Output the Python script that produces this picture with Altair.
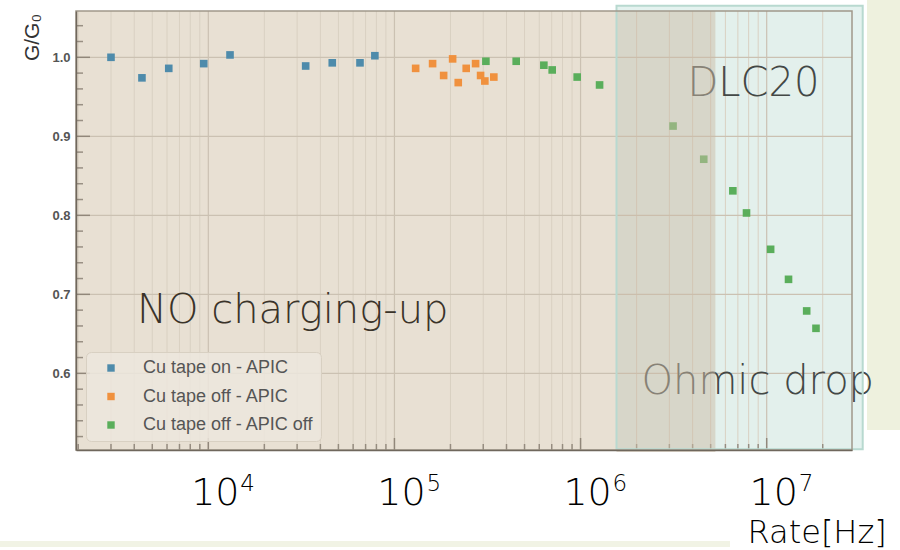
import altair as alt
import pandas as pd

# ---- measured gain ratio G/G0 versus rate ----
series_names = ["Cu tape on - APIC", "Cu tape off - APIC", "Cu tape off - APIC off"]
series_colors = ["#4E8BAB", "#F0913E", "#5AAE5B"]

on_apic_rate = [3000, 4400, 6130, 9450, 13080, 33350, 46340, 65300, 78500]
on_apic_gain = [1.000, 0.974, 0.986, 0.992, 1.003, 0.989, 0.993, 0.993, 1.002]

off_apic_rate = [130000, 160300, 183800, 205400, 220200, 243000, 272900, 290300, 306000, 342000]
off_apic_gain = [0.986, 0.992, 0.977, 0.998, 0.968, 0.986, 0.992, 0.977, 0.970, 0.975]

off_off_rate = [310000, 451000, 635000, 704000, 959000, 1265000, 3140000, 4590000,
                6580000, 7790000, 10500000, 13100000, 16400000, 18400000]
off_off_gain = [0.995, 0.995, 0.990, 0.984, 0.975, 0.965, 0.913, 0.871,
                0.831, 0.803, 0.757, 0.719, 0.679, 0.657]

# axis ranges and tick positions
x_domain = [1946, 2.873e7]
y_domain = [0.503, 1.0586]
x_major = [1e4, 1e5, 1e6, 1e7]
x_exponents = ["4", "5", "6", "7"]
x_minor = [m * 10 ** e for e in range(3, 8) for m in range(2, 10)
           if x_domain[0] < m * 10 ** e < x_domain[1]]
y_major = [0.6, 0.7, 0.8, 0.9, 1.0]
y_minor = [round(0.52 + 0.02 * i, 2) for i in range(27)]
y_minor = [v for v in y_minor if v not in y_major]

# shaded regimes
box_x = [1.56e6, 3.28e7]
box_y = [0.5038, 1.0653]
drop_x = [1.56e6, 5.3e6]
drop_y = [0.5004, 1.0586]

# annotations
note_text = ["NO charging-up", "DLC20", "Ohmic drop"]
note_x = [4140, 3.755e6, 2.127e6]
note_y = [0.6633, 0.951, 0.5738]
note_color = ["#3A3329", "#434846", "#434846"]

W, H = 776, 439
BIG_FONT = "DejaVu Sans"
BIG_WEIGHT = 200

rows = []
for name, rates, gains in [(series_names[0], on_apic_rate, on_apic_gain),
                           (series_names[1], off_apic_rate, off_apic_gain),
                           (series_names[2], off_off_rate, off_off_gain)]:
    for r, g in zip(rates, gains):
        rows.append({"series": name, "rate": r, "gain": g})
points_df = pd.DataFrame(rows)

xs = alt.Scale(type="log", domain=x_domain, nice=False)
ys = alt.Scale(domain=y_domain, nice=False, zero=False)

one = pd.DataFrame({"k": [0]})

# slide decoration to the right of the plot and strip along the bottom
side_panel = alt.Chart(one).mark_rect(color="#EEF1DE").encode(
    x=alt.value(791), x2=alt.value(824), y=alt.value(-11), y2=alt.value(419))
bottom_strip = alt.Chart(one).mark_rect(color="#F1F3E5").encode(
    x=alt.value(-76), x2=alt.value(654), y=alt.value(530), y2=alt.value(536))

box_df = pd.DataFrame({"x0": [box_x[0]], "x1": [box_x[1]], "y0": [box_y[0]], "y1": [box_y[1]]})
teal_fill = alt.Chart(box_df).mark_rect(color="#E2F1EE", opacity=0.92).encode(
    x=alt.X("x0:Q", scale=xs), x2="x1:Q",
    y=alt.Y("y0:Q", scale=ys), y2="y1:Q")
teal_edge = alt.Chart(box_df).mark_rect(fill=None, stroke="#B8D9D0", strokeWidth=2).encode(
    x=alt.X("x0:Q", scale=xs), x2="x1:Q",
    y=alt.Y("y0:Q", scale=ys), y2="y1:Q")

drop_df = pd.DataFrame({"x0": [drop_x[0]], "x1": [drop_x[1]], "y0": [drop_y[0]], "y1": [drop_y[1]]})
drop_shade = alt.Chart(drop_df).mark_rect(color="#CCBCA6", opacity=0.5).encode(
    x=alt.X("x0:Q", scale=xs), x2="x1:Q",
    y=alt.Y("y0:Q", scale=ys), y2="y1:Q")

# grid
vminor = alt.Chart(pd.DataFrame({"v": x_minor})).mark_rule(color="#D9D0C2", strokeWidth=1).encode(
    x=alt.X("v:Q", scale=xs))
vmajor = alt.Chart(pd.DataFrame({"v": x_major})).mark_rule(color="#CBC1B2", strokeWidth=1.2).encode(
    x=alt.X("v:Q", scale=xs))
hmajor = alt.Chart(pd.DataFrame({"v": y_major})).mark_rule(color="#CBC1B2", strokeWidth=1.2).encode(
    y=alt.Y("v:Q", scale=ys))

# inward ticks
tick_color = "#776E62"
ytick_major = alt.Chart(pd.DataFrame({"v": y_major})).mark_tick(
    orient="horizontal", color=tick_color, thickness=1.5, size=14).encode(
    y=alt.Y("v:Q", scale=ys), x=alt.value(7))
ytick_minor = alt.Chart(pd.DataFrame({"v": y_minor})).mark_tick(
    orient="horizontal", color=tick_color, thickness=1.5, size=7).encode(
    y=alt.Y("v:Q", scale=ys), x=alt.value(3.5))
xtick_major = alt.Chart(pd.DataFrame({"v": x_major})).mark_tick(
    orient="vertical", color=tick_color, thickness=1.5, size=12).encode(
    x=alt.X("v:Q", scale=xs), y=alt.value(H - 6))
xtick_minor = alt.Chart(pd.DataFrame({"v": x_minor})).mark_tick(
    orient="vertical", color=tick_color, thickness=1.5, size=6).encode(
    x=alt.X("v:Q", scale=xs), y=alt.value(H - 3))

frame = alt.Chart(one).mark_rect(fill=None, stroke="#A0988A", strokeWidth=1.5).encode(
    x=alt.value(0), x2=alt.value(W), y=alt.value(0), y2=alt.value(H))

points = alt.Chart(points_df).mark_point(shape="square", filled=True, size=58, opacity=1).encode(
    x=alt.X("rate:Q", scale=xs,
            axis=alt.Axis(title="Rate[Hz]", labels=False, ticks=False, grid=False,
                          domainColor="#6F675C", domainWidth=1.5, zindex=1,
                          titleFont=BIG_FONT, titleFontSize=32, titleFontWeight=BIG_WEIGHT,
                          titleColor="#000000", titleAlign="left", titleBaseline="alphabetic",
                          titleX=671, titleY=92)),
    y=alt.Y("gain:Q", scale=ys,
            axis=alt.Axis(title="G/G₀", values=y_major, format=".1f", ticks=False, grid=False,
                          domainColor="#6F675C", domainWidth=1.5, zindex=1,
                          labelFont="Liberation Sans", labelFontSize=13, labelFontWeight="bold",
                          labelColor="#555555", labelPadding=6,
                          titleFont="Liberation Sans", titleFontSize=21, titleFontWeight="normal",
                          titleColor="#333333", titleAngle=-90, titleAlign="center",
                          titleBaseline="middle", titleX=-44, titleY=26)),
    color=alt.Color("series:N", scale=alt.Scale(domain=series_names, range=series_colors),
                    legend=alt.Legend(orient="none", legendX=10, legendY=341, title=None,
                                      symbolType="square", symbolSize=55, symbolStrokeWidth=0,
                                      labelFont="Liberation Sans", labelFontSize=18,
                                      labelColor="#555555", labelLimit=400,
                                      padding=7, symbolOffset=9,
                                      labelOffset=23, rowPadding=10.5,
                                      fillColor="rgba(236,230,221,0.85)", strokeColor="#D8D0C2",
                                      cornerRadius=5)),
)

notes_df = pd.DataFrame({"t": note_text, "x": note_x, "y": note_y, "c": note_color})
notes = alt.Chart(notes_df).mark_text(
    align="left", baseline="alphabetic", font=BIG_FONT, fontSize=40, fontWeight=BIG_WEIGHT).encode(
    x=alt.X("x:Q", scale=xs), y=alt.Y("y:Q", scale=ys), text="t:N",
    color=alt.Color("c:N", scale=None))

lab_df = pd.DataFrame({"v": x_major, "e": x_exponents, "b": ["10"] * 4})
lab_base = alt.Chart(lab_df).mark_text(
    align="center", baseline="alphabetic", font=BIG_FONT, fontSize=38, fontWeight=BIG_WEIGHT,
    color="#000000", dx=7).encode(
    x=alt.X("v:Q", scale=xs), y=alt.value(H + 55), text="b:N")
lab_exp = alt.Chart(lab_df).mark_text(
    align="left", baseline="alphabetic", font=BIG_FONT, fontSize=23, fontWeight=BIG_WEIGHT,
    color="#000000", dx=32).encode(
    x=alt.X("v:Q", scale=xs), y=alt.value(H + 41), text="e:N")

chart = alt.layer(
    side_panel, bottom_strip, teal_fill, vminor, vmajor, hmajor,
    ytick_minor, ytick_major, xtick_minor, xtick_major,
    points, notes, drop_shade, teal_edge, frame, lab_base, lab_exp,
).properties(
    width=W, height=H,
    padding={"left": 76, "top": 11, "right": 48, "bottom": 100},
    autosize="none",
    background="#FFFFFF",
).configure_view(fill="#E8E0D3", stroke=None)

chart.save("out.html", embed_options={"renderer": "svg", "actions": False})
